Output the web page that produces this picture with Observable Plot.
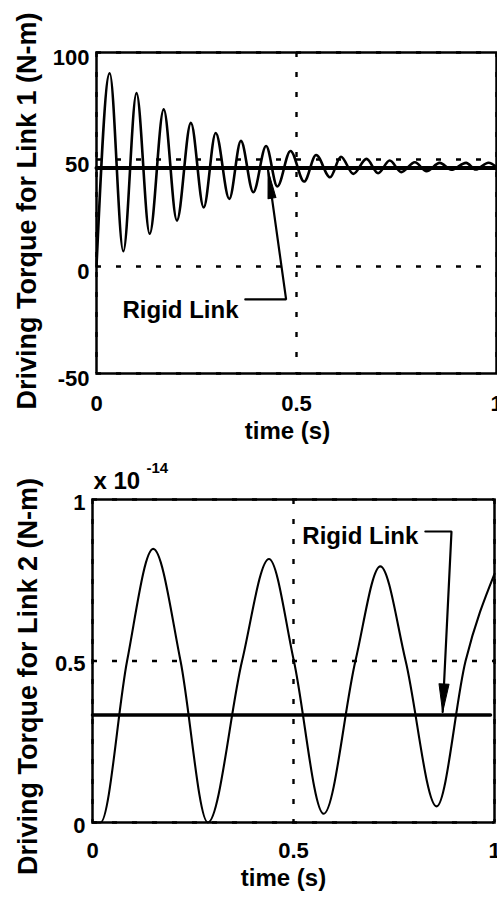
<!DOCTYPE html>
<html>
<head>
<meta charset="utf-8">
<script src="https://cdn.jsdelivr.net/npm/d3@7"></script>
<script src="https://cdn.jsdelivr.net/npm/@observablehq/plot@0.6"></script>
<style>
  html, body { margin: 0; padding: 0; background: #fff; overflow: hidden; }
  #chart svg { display: block; }
</style>
</head>
<body>
<div id="chart"></div>
<script>
// ---- Link 1: flexible-link driving torque (N-m), sampled at its turning points ----
const link1Time   = [0, 0.033, 0.067, 0.100, 0.133, 0.168, 0.201, 0.236, 0.268, 0.298, 0.332, 0.361, 0.392,
                     0.424, 0.452, 0.485, 0.519, 0.549, 0.584, 0.611, 0.642, 0.675, 0.704, 0.733, 0.762,
                     0.796, 0.825, 0.858, 0.887, 0.924, 0.948, 0.980, 1.0];
const link1Torque = [0, 90.3, 7.1, 81.0, 15.3, 73.4, 21.5, 67.1, 27.6, 62.4, 31.6, 58.7, 34.7,
                     56.3, 37.4, 54.0, 39.7, 52.1, 41.7, 51.3, 43.3, 50.3, 43.6, 49.5, 44.1,
                     48.7, 44.5, 48.4, 45.2, 48.4, 45.3, 48.5, 46.5];
const link1RigidTime   = [0, 1];
const link1RigidTorque = [46, 46];
const link1XTicks = [0, 0.5, 1];
const link1YTicks = [-50, 0, 50, 100];
const link1Note = "Rigid Link";
const link1NoteAt = [0.065, -24];                 // [time, torque] of text start
const link1LeaderTime   = [0.372, 0.474, 0.429];
const link1LeaderTorque = [-15.4, -15.4, 44.9];
const link1YLabel = "Driving Torque for Link 1 (N-m)";

// ---- Link 2: flexible-link driving torque (x 1e-14 N-m) ----
const link2Time   = [0, 0.02, 0.086, 0.151, 0.219, 0.287, 0.372, 0.439, 0.501, 0.575, 0.654, 0.716, 0.779, 0.856, 0.928, 1.0];
const link2Torque = [0, 0, 0.5, 0.847, 0.5, 0, 0.5, 0.816, 0.5, 0.027, 0.5, 0.793, 0.5, 0.050, 0.5, 0.77];
const link2RigidTime   = [0, 0.99];
const link2RigidTorque = [0.333, 0.333];
const link2XTicks = [0, 0.5, 1];
const link2YTicks = [0, 0.5, 1];
const link2Note = "Rigid Link";
const link2NoteAt = [0.522, 0.861];
const link2LeaderTime   = [0.828, 0.893, 0.871];
const link2LeaderTorque = [0.901, 0.901, 0.342];
const link2YLabel = "Driving Torque for Link 2 (N-m)";
const link2Exponent = ["x 10", "-14"];

const xLabel = "time (s)";
const FONT = "'Liberation Sans', Arial, Helvetica, sans-serif";

// filled, elongated arrowhead for Plot.vector (tip at the end of the vector)
const arrowhead = {
  draw(context, l, r) {
    context.moveTo(-r, 0);
    context.lineTo(0, -l);
    context.lineTo(r, 0);
    context.closePath();
  }
};

function panel(cfg) {
  const {width, height, mt, mb, ml, mr, yDomain} = cfg;
  // direction of the last leader segment in screen space, for the arrowhead
  const kx = (width - ml - mr) / 1;
  const ky = (height - mt - mb) / (yDomain[1] - yDomain[0]);
  const n = cfg.leaderT.length;
  const ddx = (cfg.leaderT[n - 1] - cfg.leaderT[n - 2]) * kx;
  const ddy = -(cfg.leaderV[n - 1] - cfg.leaderV[n - 2]) * ky;
  const angle = Math.atan2(ddx, -ddy) * 180 / Math.PI;
  const fmt = d => String(d);
  const dotted = {stroke: "black", strokeWidth: 2.4, strokeDasharray: "5,15"};

  return Plot.plot({
    width, height,
    marginTop: mt, marginBottom: mb, marginLeft: ml, marginRight: mr,
    x: {domain: [0, 1]},
    y: {domain: yDomain},
    style: {fontFamily: FONT, fontSize: "22px", fontWeight: "bold", color: "black", background: "white"},
    marks: [
      Plot.ruleY(cfg.yTicks, {...dotted}),
      Plot.ruleX(cfg.xTicks, {...dotted}),
      Plot.line(cfg.rigidT, {x: cfg.rigidT, y: cfg.rigidV, stroke: "black", strokeWidth: cfg.rigidWidth}),
      Plot.line(cfg.t, {x: cfg.t, y: cfg.v, curve: "monotone-x", stroke: "black", strokeWidth: cfg.curveWidth}),
      Plot.frame({stroke: "black", strokeWidth: 2.5}),
      Plot.axisX(cfg.xTicks, {tickSize: 0, tickPadding: cfg.xPad, tickFormat: fmt, label: null, fontSize: 22, fontWeight: "bold"}),
      Plot.axisY(cfg.yTicks, {tickSize: 0, tickPadding: 7, tickFormat: fmt, label: null, dy: cfg.yTickDy, fontSize: 22, fontWeight: "bold"}),
      Plot.text([xLabel], {frameAnchor: "bottom", textAnchor: "middle", lineAnchor: "bottom", dx: cfg.xLabelDx, dy: cfg.xLabelDy, fontSize: 24, fontWeight: "bold"}),
      Plot.text([cfg.yLabel], {frameAnchor: "left", textAnchor: "middle", lineAnchor: "middle", rotate: -90, dx: cfg.yLabelDx, dy: cfg.yLabelDy, fontSize: 27, fontWeight: "bold"}),
      Plot.text([cfg.note], {x: cfg.noteAt[0], y: cfg.noteAt[1], textAnchor: "start", lineAnchor: "bottom", fontSize: 24, fontWeight: "bold"}),
      Plot.line(cfg.leaderT, {x: cfg.leaderT, y: cfg.leaderV, stroke: "black", strokeWidth: 2.2, strokeLinejoin: "miter"}),
      Plot.vector([0], {x: cfg.leaderT[n - 1], y: cfg.leaderV[n - 1], length: 28, r: cfg.headR, rotate: angle,
                        anchor: "end", shape: arrowhead, fill: "black", stroke: "black", strokeWidth: 1}),
      ...(cfg.extra || [])
    ]
  });
}

const link1Plot = panel({
  width: 497, height: 448, mt: 52, mb: 75, ml: 96, mr: 1, yDomain: [-50, 100],
  t: link1Time, v: link1Torque, rigidT: link1RigidTime, rigidV: link1RigidTorque,
  xTicks: link1XTicks, yTicks: link1YTicks, xPad: 22, yTickDy: 5,
  curveWidth: 2.6, rigidWidth: 4,
  yLabel: link1YLabel, yLabelDx: -69, yLabelDy: -2,
  xLabelDx: -9, xLabelDy: 65,
  note: link1Note, noteAt: link1NoteAt, leaderT: link1LeaderTime, leaderV: link1LeaderTorque, headR: 4
});

const link2Plot = panel({
  width: 497, height: 450, mt: 51, mb: 76, ml: 92, mr: 3, yDomain: [0, 1],
  t: link2Time, v: link2Torque, rigidT: link2RigidTime, rigidV: link2RigidTorque,
  xTicks: link2XTicks, yTicks: link2YTicks, xPad: 20, yTickDy: 3,
  curveWidth: 2.1, rigidWidth: 3.5,
  yLabel: link2YLabel, yLabelDx: -64, yLabelDy: 15.5,
  xLabelDx: -10, xLabelDy: 63,
  note: link2Note, noteAt: link2NoteAt, leaderT: link2LeaderTime, leaderV: link2LeaderTorque, headR: 5,
  extra: [
    Plot.text([link2Exponent[0]], {frameAnchor: "top-left", textAnchor: "start", lineAnchor: "bottom", dx: 1, dy: -11, fontSize: 24, fontWeight: "bold"}),
    Plot.text([link2Exponent[1]], {frameAnchor: "top-left", textAnchor: "start", lineAnchor: "bottom", dx: 54, dy: -27, fontSize: 15, fontWeight: "bold"})
  ]
});

const chart = document.getElementById("chart");
chart.appendChild(link1Plot);
chart.appendChild(link2Plot);
</script>
</body>
</html>
